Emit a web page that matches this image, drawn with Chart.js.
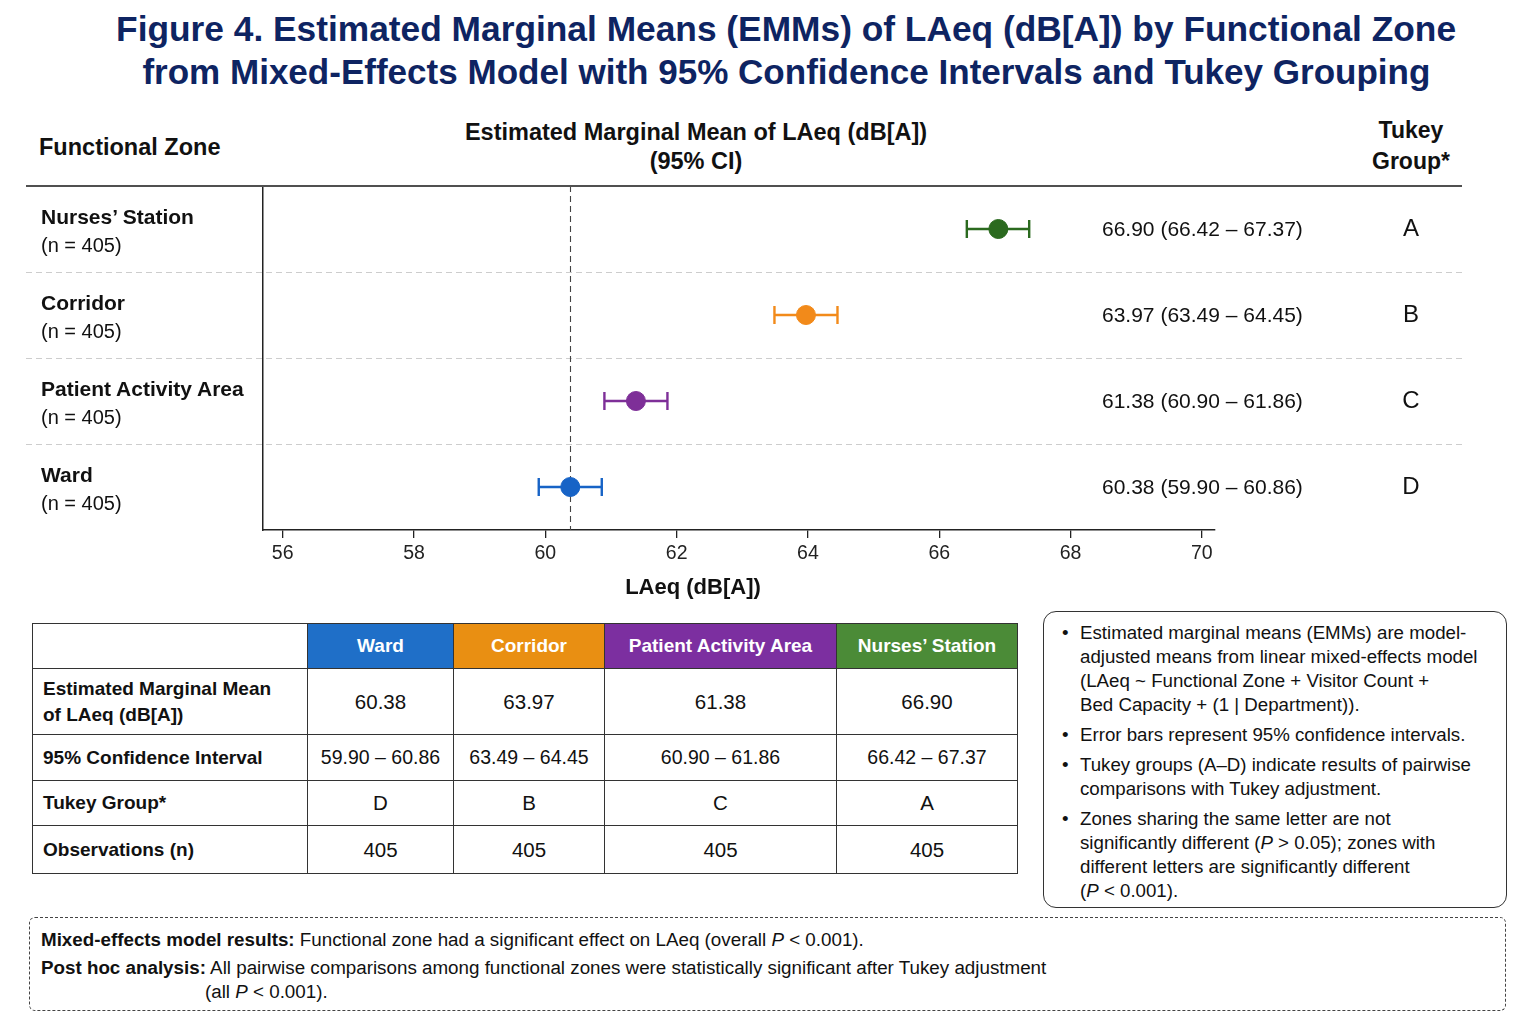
<!DOCTYPE html>
<html>
<head>
<meta charset="utf-8">
<title>Figure 4 - EMMs of LAeq by Functional Zone</title>
<script src="https://cdn.jsdelivr.net/npm/chart.js@4.4.1/dist/chart.umd.min.js"></script>
<style>
  body { margin: 0; width: 1536px; height: 1024px; background: #fff; position: relative; overflow: hidden;
         font-family: "Liberation Sans", Arial, Helvetica, sans-serif; color: #111; }
  .abs { position: absolute; }
  #title { left: 0; top: 7px; width: 1572px; text-align: center; color: #0e2462; font-weight: bold;
           font-size: 35px; line-height: 43px; }
  #title span { display: inline-block; white-space: nowrap; transform-origin: center; }
  .hdr { font-weight: bold; font-size: 23.5px; line-height: 29px; color: #111; }
  #plot { left: 0; top: 100px; }
  .zlabel { left: 41px; font-weight: bold; font-size: 21px; line-height: 24px; white-space: nowrap; }
  .zn { left: 41px; font-size: 20px; line-height: 22px; white-space: nowrap; }
  .val { left: 1102px; font-size: 21px; line-height: 24px; white-space: nowrap; }
  .grp { left: 1381px; width: 60px; text-align: center; font-size: 24px; line-height: 28px; }
  #xtitle { left: 543px; width: 300px; top: 574px; text-align: center; font-weight: bold; font-size: 22px; line-height: 26px; }

  #tbl { left: 32px; top: 623px; border-collapse: collapse; table-layout: fixed; }
  #tbl td, #tbl th { border: 1.5px solid #333; text-align: center; font-size: 20.5px; padding: 0; }
  #tbl th { color: #fff; font-weight: bold; font-size: 19px; }
  #tbl td.rl { text-align: left; padding-left: 10px; font-weight: bold; font-size: 19px; line-height: 26px; }
  #tbl td.ci { font-size: 19.5px; }

  #notes { left: 1043px; top: 611px; width: 464px; height: 297px; border: 1.5px solid #333; border-radius: 13px;
           box-sizing: border-box; padding-top: 9px; font-size: 18.7px; line-height: 24px; color: #111; }
  #notes .it { position: relative; padding-left: 36px; margin-bottom: 6px; white-space: nowrap; }
  #notes .it::before { content: "•"; position: absolute; left: 18px; top: 0; }

  #foot { left: 29px; top: 917px; width: 1477px; height: 94px; border: 1.3px dashed #444; border-radius: 6px;
          box-sizing: border-box; font-size: 18.8px; color: #111; }
  #foot div { position: absolute; white-space: nowrap; line-height: 22px; }
</style>
</head>
<body>

<div id="title" class="abs">
  <span data-w="1340">Figure 4. Estimated Marginal Means (EMMs) of LAeq (dB[A]) by Functional Zone</span><br>
  <span data-w="1288">from Mixed-Effects Model with 95% Confidence Intervals and Tukey Grouping</span>
</div>

<div class="abs hdr" style="left:39px; top:133px;">Functional Zone</div>
<div class="abs hdr" style="left:396px; width:600px; top:118px; text-align:center;">Estimated Marginal Mean of LAeq (dB[A])<br>(95% CI)</div>
<div class="abs hdr" style="left:1331px; width:160px; top:115px; text-align:center; line-height:31px; font-size:23px;">Tukey<br>Group*</div>

<canvas id="plot" class="abs" width="1536" height="510" style="width:1536px;height:510px;"></canvas>
<div id="xtitle" class="abs">LAeq (dB[A])</div>

<table id="tbl" class="abs"></table>

<div id="notes" class="abs">
  <div class="it">Estimated marginal means (EMMs) are model-<br>adjusted means from linear mixed-effects model<br>(LAeq ~ Functional Zone + Visitor Count +<br>Bed Capacity + (1 | Department)).</div>
  <div class="it">Error bars represent 95% confidence intervals.</div>
  <div class="it">Tukey groups (A–D) indicate results of pairwise<br>comparisons with Tukey adjustment.</div>
  <div class="it">Zones sharing the same letter are not<br>significantly different (<i>P</i> &gt; 0.05); zones with<br>different letters are significantly different<br>(<i>P</i> &lt; 0.001).</div>
</div>

<div id="foot" class="abs">
  <div style="left:11px; top:11px;"><b>Mixed-effects model results:</b> Functional zone had a significant effect on LAeq (overall <i>P</i> &lt; 0.001).</div>
  <div style="left:11px; top:39px;"><b>Post hoc analysis:</b> All pairwise comparisons among functional zones were statistically significant after Tukey adjustment</div>
  <div style="left:175px; top:63px;">(all <i>P</i> &lt; 0.001).</div>
</div>

<script>
// Data (plot order, top to bottom)
const zones = ["Nurses’ Station", "Corridor", "Patient Activity Area", "Ward"];
const sampleSizes = [405, 405, 405, 405];
const emm = [66.90, 63.97, 61.38, 60.38];
const ciLow = [66.42, 63.49, 60.90, 59.90];
const ciHigh = [67.37, 64.45, 61.86, 60.86];
const tukeyGroups = ["A", "B", "C", "D"];
const xTicks = [56, 58, 60, 62, 64, 66, 68, 70];
const refValue = 60.38; // dashed reference line (Ward EMM)

// Table column order (Ward, Corridor, Patient Activity Area, Nurses' Station)
const tableOrder = [3, 1, 2, 0];

const pointColors = ["#2b6a1f", "#f28a1a", "#7e2f98", "#1763c6"];
const headerColors = ["#4b8b37", "#e98f12", "#7c2fa0", "#1f6fc8"];

// fit title lines to the reference width
document.querySelectorAll("#title span").forEach(el => {
  const w = el.getBoundingClientRect().width;
  el.style.transform = `scaleX(${el.dataset.w / w})`;
});

// Row separators, header rule and the dashed reference line
const guides = {
  id: "guides",
  beforeDatasetsDraw(chart) {
    const { ctx, scales: { x, y } } = chart;
    const band = (y.bottom - y.top) / zones.length;
    ctx.save();
    ctx.strokeStyle = "#cdcdcd";
    ctx.lineWidth = 1.2;
    ctx.setLineDash([6, 4]);
    for (let k = 1; k < zones.length; k++) {
      const yy = Math.round(y.top + band * k) + 0.5;
      ctx.beginPath();
      ctx.moveTo(26, yy);
      ctx.lineTo(1462, yy);
      ctx.stroke();
    }
    const rx = Math.round(x.getPixelForValue(refValue)) + 0.5;
    ctx.strokeStyle = "#444";
    ctx.lineWidth = 1.1;
    ctx.setLineDash([6, 4]);
    ctx.beginPath();
    ctx.moveTo(rx, y.top);
    ctx.lineTo(rx, y.bottom);
    ctx.stroke();
    ctx.restore();
  },
  afterDraw(chart) {
    const { ctx, chartArea } = chart;
    ctx.save();
    ctx.strokeStyle = "#505050";
    ctx.lineWidth = 2;
    ctx.beginPath();
    ctx.moveTo(26, chartArea.top);
    ctx.lineTo(1462, chartArea.top);
    ctx.stroke();
    ctx.restore();
  }
};

const ciSets = zones.map((z, i) => ({
  type: "line",
  order: 1,
  data: [{ x: ciLow[i], y: z }, { x: ciHigh[i], y: z }],
  borderColor: pointColors[i],
  borderWidth: 2.4,
  pointStyle: "line",
  pointRotation: 90,
  pointRadius: 9,
  pointBorderColor: pointColors[i],
  pointBorderWidth: 2.4
}));

const meanSet = {
  type: "scatter",
  order: 0,
  data: zones.map((z, i) => ({ x: emm[i], y: z })),
  pointRadius: 9.5,
  pointBackgroundColor: pointColors,
  pointBorderColor: pointColors,
  pointBorderWidth: 1
};

const chart = new Chart(document.getElementById("plot"), {
  data: { datasets: [meanSet, ...ciSets] },
  options: {
    responsive: false,
    animation: false,
    layout: { padding: { left: 263, right: 321, top: 86, bottom: 0 } },
    plugins: { legend: { display: false }, tooltip: { enabled: false } },
    scales: {
      x: {
        type: "linear",
        min: 55.7,
        max: 70.2,
        afterBuildTicks: s => { s.ticks = xTicks.map(v => ({ value: v })); },
        afterFit: s => { s.height = 80; },
        ticks: { color: "#222", font: { family: "Liberation Sans", size: 19.5 }, padding: 4 },
        grid: { drawOnChartArea: false, drawTicks: true, tickLength: 8, color: "#222", lineWidth: 1.3 },
        border: { color: "#222", width: 1.5 }
      },
      y: {
        type: "category",
        labels: zones,
        offset: true,
        afterFit: s => { s.width = 0; },
        ticks: { display: false },
        grid: { display: false },
        border: { color: "#222", width: 1.5 }
      }
    }
  },
  plugins: [guides]
});

// Row labels and the right-hand columns, placed on the category scale
const top0 = 100;
zones.forEach((z, i) => {
  const yc = chart.scales.y.getPixelForValue(i) + top0;
  const add = (cls, text, cy, h) => {
    const d = document.createElement("div");
    d.className = "abs " + cls;
    d.textContent = text;
    d.style.top = (cy - h / 2) + "px";
    document.body.appendChild(d);
  };
  add("zlabel", z, yc - 12, 24);
  add("zn", `(n = ${sampleSizes[i]})`, yc + 16, 22);
  add("val", `${emm[i].toFixed(2)} (${ciLow[i].toFixed(2)} – ${ciHigh[i].toFixed(2)})`, yc, 24);
  add("grp", tukeyGroups[i], yc - 1, 28);
});

// Summary table
const tbl = document.getElementById("tbl");
const colW = [275, 146, 151, 232, 181];
let html = "<colgroup>" + colW.map(w => `<col style="width:${w}px">`).join("") + "</colgroup>";
html += `<tr style="height:45px"><td></td>` +
  tableOrder.map(i => `<th style="background:${headerColors[i]}">${zones[i]}</th>`).join("") + "</tr>";
html += `<tr style="height:66px"><td class="rl">Estimated Marginal Mean<br>of LAeq (dB[A])</td>` +
  tableOrder.map(i => `<td>${emm[i].toFixed(2)}</td>`).join("") + "</tr>";
html += `<tr style="height:46px"><td class="rl">95% Confidence Interval</td>` +
  tableOrder.map(i => `<td class="ci">${ciLow[i].toFixed(2)} – ${ciHigh[i].toFixed(2)}</td>`).join("") + "</tr>";
html += `<tr style="height:45px"><td class="rl">Tukey Group*</td>` +
  tableOrder.map(i => `<td>${tukeyGroups[i]}</td>`).join("") + "</tr>";
html += `<tr style="height:48px"><td class="rl">Observations (n)</td>` +
  tableOrder.map(i => `<td>${sampleSizes[i]}</td>`).join("") + "</tr>";
tbl.innerHTML = html;
</script>
</body>
</html>
